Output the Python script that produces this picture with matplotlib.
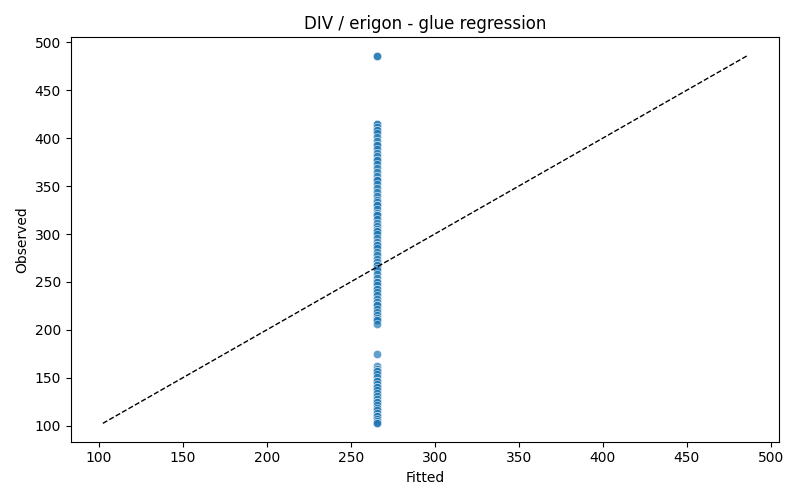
import matplotlib
matplotlib.use("Agg")
import matplotlib.pyplot as plt
import seaborn as sns

observed_upper = [
    486, 486, 415, 415, 412, 408, 408, 405, 401, 397, 393, 393, 389, 385, 381,
    377, 377, 373, 369, 365, 361, 356, 356, 352, 348, 344, 340, 336, 333,
    330, 330, 326, 322, 320, 320, 316, 312, 308, 305, 303, 303, 300, 296,
    292, 289, 289, 285, 281, 278, 274, 271, 268, 268, 265, 262, 258, 254,
    250, 250, 247, 243, 243, 240, 236, 232, 229, 226, 226, 222, 219, 215,
    212, 210, 210, 206,
]
observed_lower = [
    175, 162, 159, 157, 157, 154, 151, 147, 147, 144, 140, 140, 137, 134,
    131, 128, 125, 125, 122, 119, 116, 113, 110, 110, 107, 105, 103, 102.5,
]
observed = observed_upper + observed_lower

# the model predicts one value for everything
FITTED_VALUE = 265.4
fitted = [FITTED_VALUE] * len(observed)

fig, ax = plt.subplots(figsize=(8, 5), dpi=100)
sns.scatterplot(x=fitted, y=observed, alpha=0.7, ax=ax)

lo = min(min(fitted), min(observed))
hi = max(max(fitted), max(observed))
ax.plot([lo, hi], [lo, hi], "k--", linewidth=1)

ax.set_xlabel("Fitted")
ax.set_ylabel("Observed")
ax.set_title("DIV / erigon - glue regression")
fig.tight_layout()
fig.savefig("out.png", dpi=100)
